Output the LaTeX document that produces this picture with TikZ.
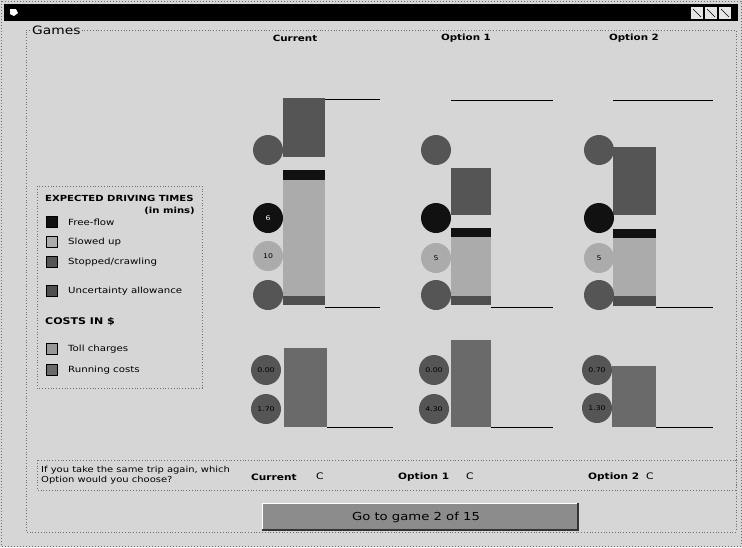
\documentclass[tikz,border=0pt]{standalone}
\usepackage{fontspec}
\setmainfont{DejaVu Sans}[FakeStretch=1.2]
\definecolor{bg}{HTML}{D6D6D6}
\definecolor{stopc}{HTML}{555555}
\definecolor{freec}{HTML}{111111}
\definecolor{slowc}{HTML}{ABABAB}
\definecolor{uncc}{HTML}{4E4E4E}
\definecolor{costc}{HTML}{6A6A6A}
\definecolor{framec}{HTML}{6E6E6E}
\definecolor{btnc}{HTML}{8C8C8C}
\begin{document}
\begin{tikzpicture}[x=1pt,y=-1pt,
  lbl/.style={font=\fontsize{8.5}{10}\selectfont, inner sep=0pt},
  hdr/.style={font=\bfseries\fontsize{8.4}{10}\selectfont, inner sep=0pt},
  colhdr/.style={font=\bfseries\fontsize{8.6}{10}\selectfont, inner sep=0pt},
  qlbl/.style={font=\bfseries\fontsize{8.8}{10}\selectfont, inner sep=0pt, anchor=west},
  dot/.style={circle, minimum size=30pt, inner sep=0pt, font=\fontsize{6.5}{8}\selectfont},
  dotdark/.style={dot, fill=stopc},
  dotblack/.style={dot, fill=freec, text=white},
  dotlight/.style={dot, fill=slowc},
  swatch/.style={draw=black, line width=0.4pt, minimum size=11pt, inner sep=0pt},
  axis/.style={line width=0.9pt, black},
  radio/.style={font=\fontsize{9}{10}\selectfont, inner sep=0pt}]
\useasboundingbox (0,0) rectangle (742,547);
% window
\fill[bg] (0,0) rectangle (742,547);
\draw[framec, dotted, line width=1pt] (1,1) rectangle (741,546);
\fill[black] (4,4) rectangle (738,21);
\fill[white] (10,9) -- (16,9) -- (18,13) -- (14,16) -- (10,14) -- cycle;
\foreach \bx in {691,705,719}{\fill[white!80!gray] (\bx,7) rectangle (\bx+12,19); \draw[black,line width=0.5pt] (\bx+2,9) -- (\bx+10,17);}
% group box
\node[anchor=west, font=\fontsize{11.5}{12}\selectfont, inner sep=1pt] (games) at (31,30) {Games};
\draw[framec, dotted, line width=0.8pt] (games.east |- 0,30) -- (736,30) -- (736,532) -- (26,532) -- (26,30) -- (games.west |- 0,30);
% headers
\node[colhdr] (hcur) at (295,38) {Current};
\node[colhdr] (hop1) at (466,38) {Option 1};
\node[colhdr] (hop2) at (634,38) {Option 2};
% ---------- Current time bar
\fill[stopc] (283,98) rectangle (325,157);
\fill[freec] (283,170) rectangle (325,180);
\fill[slowc] (283,180) rectangle (325,296);
\fill[uncc] (283,296) rectangle (325,305);
\draw[axis] (325,99) -- (380,99);
\draw[axis] (325,307) -- (380,307);
\node[dotdark] (c1) at (268,150) {};
\node[dotblack] (c2) at (268,218) {6};
\node[dotlight] (c3) at (268,256) {10};
\node[dotdark] (c4) at (268,295) {};
% ---------- Option 1 time bar
\fill[stopc] (451,168) rectangle (491,215);
\fill[freec] (451,228) rectangle (491,237);
\fill[slowc] (451,237) rectangle (491,296);
\fill[uncc] (451,296) rectangle (491,305);
\draw[axis] (451,100) -- (553,100);
\draw[axis] (491,307) -- (553,307);
\node[dotdark] (o1a) at (436,150) {};
\node[dotblack] (o1b) at (436,218) {};
\node[dotlight] (o1c) at (436,258) {5};
\node[dotdark] (o1d) at (436,295) {};
% ---------- Option 2 time bar
\fill[stopc] (613,147) rectangle (656,215);
\fill[freec] (613,229) rectangle (656,238);
\fill[slowc] (613,238) rectangle (656,296);
\fill[uncc] (613,296) rectangle (656,306);
\draw[axis] (613,100) -- (713,100);
\draw[axis] (656,307) -- (713,307);
\node[dotdark] (o2a) at (599,150) {};
\node[dotblack] (o2b) at (599,218) {};
\node[dotlight] (o2c) at (599,258) {5};
\node[dotdark] (o2d) at (599,295) {};
% ---------- cost bars
\fill[costc] (284,348) rectangle (327,427);
\draw[axis] (327,427) -- (393,427);
\node[dotdark] (cc1) at (266,370) {0.00};
\node[dotdark] (cc2) at (266,409) {1.70};
\fill[costc] (451,340) rectangle (491,427);
\draw[axis] (491,427) -- (553,427);
\node[dotdark] (oc1) at (434,370) {0.00};
\node[dotdark] (oc2) at (434,409) {4.30};
\fill[costc] (612,366) rectangle (656,427);
\draw[axis] (656,427) -- (713,427);
\node[dotdark] (pc1) at (597,370) {0.70};
\node[dotdark] (pc2) at (597,408) {1.30};
% ---------- legend
\draw[framec, dotted, line width=0.8pt] (37,186) rectangle (202,388);
\node[hdr, anchor=west] (lt) at (45,198) {EXPECTED DRIVING TIMES};
\node[hdr, anchor=east] (lm) at (195,211) {(in mins)};
\node[swatch, fill=freec] (s1) at (52,222) {};
\node[lbl, anchor=west] (t1) at (68,222) {Free-flow};
\node[swatch, fill=slowc] (s2) at (52,242) {};
\node[lbl, anchor=west] (t2) at (68,242) {Slowed up};
\node[swatch, fill=stopc] (s3) at (52,262) {};
\node[lbl, anchor=west] (t3) at (68,262) {Stopped/crawling};
\node[swatch, fill=uncc] (s4) at (52,291) {};
\node[lbl, anchor=west] (t4) at (68,291) {Uncertainty allowance};
\node[hdr, anchor=west, font=\bfseries\fontsize{9.2}{10}\selectfont] (lc) at (45,322) {COSTS IN \$};
\node[swatch, fill=costc!70] (s5) at (52,349) {};
\node[lbl, anchor=west] (t5) at (68,349) {Toll charges};
\node[swatch, fill=costc] (s6) at (52,370) {};
\node[lbl, anchor=west] (t6) at (68,370) {Running costs};
% ---------- question box
\draw[framec, dotted, line width=0.8pt] (37,460) rectangle (736,490);
\node[anchor=west, align=left, inner sep=0pt, font=\fontsize{8.3}{10}\selectfont] (q) at (41,475) {If you take the same trip again, which\\Option would you choose?};
\node[qlbl] (qc) at (251,477) {Current};
\node[radio] (rc) at (320,476) {C};
\node[qlbl] (q1) at (398,477) {Option 1};
\node[radio] (r1) at (470,476) {C};
\node[qlbl] (q2) at (588,477) {Option 2};
\node[radio] (r2) at (650,476) {C};
% ---------- button
\fill[btnc] (262,503) rectangle (578,530);
\draw[white, line width=1pt] (262,530) -- (262,503) -- (578,503);
\draw[black!80, line width=1.2pt] (262,530) -- (578,530) -- (578,503);
\node[font=\fontsize{11}{12}\selectfont, inner sep=0pt] (btn) at (416,517) {Go to game 2 of 15};
\end{tikzpicture}
\end{document}
